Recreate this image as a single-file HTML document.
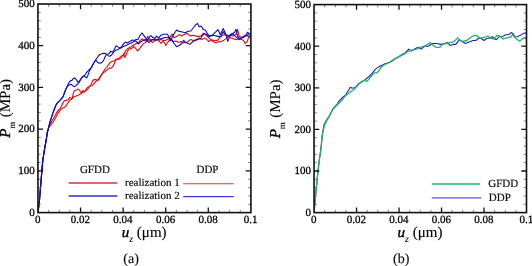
<!DOCTYPE html>
<html><head><meta charset="utf-8"><style>
html,body{margin:0;padding:0;background:#fff;}
svg{display:block;will-change:transform;font-family:"Liberation Serif",serif;text-rendering:geometricPrecision;}
text{stroke:#000;stroke-width:0.28px;}
.leg text{stroke-width:0.18px;}
</style></head><body>
<svg width="532" height="266" viewBox="0 0 532 266">
<defs><clipPath id="ca"><rect x="37.95" y="4.0" width="212.95" height="208.60"/></clipPath>
<clipPath id="cb"><rect x="314.05" y="4.6" width="212.45" height="208.00"/></clipPath></defs>
<g clip-path="url(#ca)"><polyline points="38.0,212.6 39.5,200.0 41.6,174.1 42.8,160.1 44.6,148.9 46.2,139.8 47.4,132.0 48.5,128.2 48.9,127.0 50.0,125.9 51.5,124.0 53.4,121.8 54.9,119.1 56.0,116.9 57.2,114.6 58.3,112.8 59.1,111.7 60.9,109.4 62.7,108.1 64.5,107.2 65.8,106.3 67.1,104.0 68.5,102.1 69.9,100.1 71.4,99.4 73.4,97.2 75.4,96.2 77.4,95.5 79.5,94.5 81.5,93.2 82.5,92.8 84.1,91.8 86.0,90.5 88.0,88.8 89.7,86.2 92.4,85.5 94.5,82.8 96.5,80.8 99.2,79.4 100.3,76.3 103.1,72.8 105.2,71.5 108.1,69.1 109.8,67.9 111.0,68.3 112.7,66.6 113.9,64.6 114.8,62.5 115.6,60.0 117.7,59.6 119.8,58.9 121.9,56.8 124.0,54.0 125.0,57.5 126.0,55.0 127.3,51.6 129.2,49.0 131.8,48.4 133.7,46.4 135.6,48.4 137.5,50.9 139.4,49.0 141.3,46.4 143.3,43.9 145.2,42.6 147.1,41.3 149.0,40.1 150.9,39.4 152.8,40.1 154.8,38.8 156.7,39.4 159.2,41.3 161.1,43.3 163.1,41.3 165.0,43.3 165.7,45.5 167.7,42.3 170.2,39.1 172.8,41.6 176.0,41.0 178.5,42.3 181.1,41.6 183.6,42.9 186.8,42.3 190.8,39.4 193.6,40.8 196.4,40.1 199.1,38.0 201.9,39.4 204.7,38.0 207.5,40.1 208.9,41.5 211.0,40.1 213.1,41.5 215.9,42.9 218.6,41.5 220.3,42.1 223.3,40.6 225.5,39.1 228.5,36.8 231.6,38.3 234.6,39.1 237.6,39.8 240.6,39.1 243.6,40.6 245.1,43.6 247.4,41.4 248.9,36.1 251.0,35.0" fill="none" stroke="#dc0c0c" stroke-width="1.1" stroke-linejoin="round" stroke-linecap="round"/><polyline points="38.0,212.6 39.5,200.0 41.6,174.1 42.8,160.1 44.6,148.9 46.2,139.8 47.4,132.0 48.5,128.2 48.9,127.0 50.4,124.0 51.9,121.0 53.4,118.4 54.9,115.8 56.4,113.1 57.2,111.8 58.7,109.9 60.2,108.4 61.3,106.9 62.0,105.0 62.8,102.8 63.9,101.3 65.1,100.6 66.8,100.4 68.5,99.2 69.6,97.5 70.7,98.1 72.2,98.7 73.4,92.8 74.7,90.8 76.8,89.8 78.1,89.1 79.5,90.1 80.5,91.8 81.5,92.8 82.2,91.5 83.2,90.5 84.5,91.8 85.5,90.8 86.5,88.4 88.0,87.1 89.5,86.5 91.1,84.2 93.1,80.1 95.8,79.4 97.6,80.4 99.6,77.6 102.4,73.5 104.4,69.9 106.5,67.5 108.1,65.4 109.4,63.3 111.0,62.1 112.7,61.2 114.4,60.8 115.6,59.6 117.0,58.9 119.1,58.2 121.2,56.1 123.3,54.7 124.6,52.6 126.0,50.3 127.9,48.4 130.5,47.1 133.0,45.2 135.6,43.9 138.1,43.3 140.1,40.7 142.0,38.8 143.9,40.1 145.8,41.3 147.7,36.2 149.0,38.8 150.9,41.3 152.8,42.6 154.8,40.7 156.7,39.4 158.6,40.1 161.1,39.4 163.7,40.7 166.0,40.1 168.3,39.1 170.9,35.9 172.1,34.0 174.0,37.8 176.6,36.5 179.2,34.6 181.7,35.9 184.3,34.6 186.8,33.3 190.1,35.9 192.9,35.2 195.7,35.9 198.4,36.6 201.2,35.9 203.3,33.1 205.4,34.5 207.5,36.6 209.6,38.7 212.4,40.1 215.2,40.8 217.9,40.1 220.0,37.3 222.0,35.5 224.0,34.6 227.0,36.1 230.0,35.3 233.0,36.1 236.0,34.6 237.6,29.3 239.1,36.1 242.1,37.6 245.1,35.3 248.1,34.6 251.0,33.0" fill="none" stroke="#dc0c0c" stroke-width="1.1" stroke-linejoin="round" stroke-linecap="round"/><polyline points="38.0,212.6 39.5,200.0 41.6,174.1 42.8,160.1 44.6,148.9 46.2,139.8 47.4,132.0 48.5,128.2 49.6,123.3 50.8,119.5 51.9,116.1 53.0,112.7 54.5,108.8 56.0,105.0 57.2,103.1 58.7,101.6 60.2,100.1 61.7,98.3 63.2,96.4 64.2,93.5 65.7,89.5 67.2,86.5 69.0,85.0 70.2,84.4 71.5,84.6 72.7,85.6 73.9,86.6 75.2,86.2 76.4,85.2 77.7,84.0 78.9,82.6 80.2,80.5 81.8,77.8 83.0,76.6 84.3,76.1 85.1,76.7 86.4,77.9 87.2,77.1 88.0,75.0 88.8,72.6 89.7,70.5 91.0,68.0 92.5,65.0 94.0,62.5 95.7,60.0 97.0,61.7 98.6,62.9 100.3,63.3 101.9,62.5 103.6,60.4 104.8,57.5 106.1,55.0 107.0,54.2 109.4,53.4 110.8,51.1 112.6,52.3 114.4,49.3 116.2,45.7 118.0,46.9 119.9,48.1 121.7,46.3 124.1,43.3 125.3,42.0 127.1,43.0 128.9,42.0 130.7,41.0 132.5,40.0 134.3,40.5 136.1,39.6 137.9,39.5 139.7,36.0 141.5,33.5 142.0,33.0 143.9,35.6 145.8,38.1 147.7,40.1 149.6,36.9 150.9,35.6 152.8,37.5 154.8,38.1 156.7,36.2 158.6,38.1 160.5,35.6 163.1,34.3 165.6,34.3 167.0,34.0 168.9,36.5 170.2,41.0 172.8,35.9 174.7,32.7 176.6,30.1 179.2,31.4 182.4,32.0 185.5,32.7 187.5,31.4 190.8,31.0 193.6,27.5 195.7,24.7 197.5,23.4 199.1,26.8 201.2,26.1 203.3,29.6 205.4,30.3 207.5,33.8 209.6,35.9 212.4,35.2 215.2,32.4 217.9,29.6 220.3,34.6 223.3,28.6 226.3,35.3 227.8,41.4 230.0,36.1 232.3,33.8 234.6,32.3 236.0,29.3 237.6,36.1 239.8,39.1 242.8,37.6 245.9,36.1 247.4,32.3 249.6,33.8 251.0,34.0" fill="none" stroke="#0c0cc0" stroke-width="1.1" stroke-linejoin="round" stroke-linecap="round"/><polyline points="38.0,212.6 39.5,200.0 41.6,174.1 42.8,160.1 44.6,148.9 46.2,139.8 47.4,132.0 48.5,128.2 49.6,123.3 50.8,119.5 51.9,116.1 53.0,112.7 54.5,108.8 56.0,105.0 57.2,103.1 58.7,101.6 60.2,100.1 61.7,98.3 63.2,96.4 64.2,93.5 65.7,89.5 67.2,86.5 67.7,85.0 69.4,81.7 70.6,80.8 71.9,80.4 73.1,78.8 74.3,77.9 75.6,78.8 76.8,80.4 78.1,82.5 79.3,81.2 80.6,79.2 81.8,77.5 83.0,76.3 84.3,75.9 85.5,74.2 86.4,72.6 87.6,71.3 88.8,70.1 91.8,67.1 93.8,63.0 95.7,60.0 97.8,56.7 99.9,54.5 102.8,53.4 105.2,53.4 106.9,54.6 108.6,55.9 109.8,56.3 111.5,55.0 113.1,53.0 115.0,50.5 116.8,49.9 119.3,48.7 121.7,47.5 124.1,46.3 126.5,45.3 128.9,44.0 131.3,43.0 133.1,42.0 134.9,40.8 136.8,42.0 138.6,43.9 140.5,42.0 142.6,40.7 145.2,39.4 147.1,40.7 149.0,42.6 150.9,40.7 152.8,39.4 155.4,40.1 157.9,39.4 160.5,38.8 163.1,38.1 165.6,37.5 168.9,37.2 171.5,39.1 174.0,43.5 176.6,46.7 179.2,45.5 181.7,43.5 183.6,40.3 185.5,42.3 188.1,43.5 190.1,44.2 192.2,42.2 195.0,40.1 197.7,39.4 200.5,38.7 202.6,35.2 204.7,33.8 206.8,34.5 208.9,36.6 211.0,35.9 213.8,35.2 215.9,35.9 218.6,36.6 221.0,36.1 223.3,31.6 225.5,34.6 228.5,36.1 231.6,33.8 233.8,34.6 235.3,36.1 237.6,38.3 240.6,38.3 243.6,36.8 246.6,35.3 248.9,36.8 251.0,37.0" fill="none" stroke="#0c0cc0" stroke-width="1.1" stroke-linejoin="round" stroke-linecap="round"/></g>
<g clip-path="url(#cb)"><polyline points="314.1,212.6 315.5,196.0 317.9,172.0 319.3,160.0 320.8,150.0 322.3,135.0 323.9,125.1 326.2,120.6 328.5,117.3 330.7,113.5 332.8,108.8 335.1,106.5 337.3,104.2 338.9,101.2 341.2,99.0 343.4,96.7 345.7,95.0 347.1,92.4 349.2,89.3 350.2,87.2 352.3,88.3 355.4,87.5 358.4,83.8 361.8,82.1 365.1,79.6 368.5,77.0 371.9,73.6 375.3,69.4 378.6,66.9 382.0,65.2 385.4,63.5 388.8,62.7 392.2,61.0 395.5,58.4 398.9,56.8 402.3,54.2 405.0,52.9 408.8,49.1 411.6,51.0 414.4,49.1 418.2,47.3 421.0,49.1 424.7,46.3 428.5,46.3 432.3,43.5 437.0,43.5 440.7,44.4 444.5,43.5 447.3,42.6 450.1,45.4 452.9,44.4 455.8,44.4 459.5,39.7 462.3,41.6 465.3,43.5 469.0,42.0 472.8,40.5 475.8,40.5 479.5,37.5 481.8,39.0 484.0,40.5 487.0,38.3 489.3,38.3 492.3,36.8 496.1,39.8 499.1,36.8 503.0,36.3 506.0,34.8 509.0,34.4 511.3,32.5 513.0,33.6 515.0,37.0 517.0,36.7 520.0,35.5 523.0,33.6 525.0,32.9 526.4,33.6" fill="none" stroke="#2a1ecc" stroke-width="1.1" stroke-linejoin="round" stroke-linecap="round"/><polyline points="314.1,212.6 315.5,196.0 317.9,172.0 319.3,160.0 320.8,150.0 322.3,135.0 324.5,125.1 326.8,120.6 329.0,116.8 331.3,112.3 332.8,109.3 335.1,107.0 337.3,104.8 339.6,102.5 341.8,100.3 344.1,97.3 346.3,95.0 348.1,93.8 351.0,91.5 354.3,89.3 358.4,84.6 361.8,81.3 364.3,80.4 366.8,81.3 369.4,78.7 371.9,75.3 374.4,72.8 377.0,72.8 379.5,70.3 381.2,66.9 383.7,65.2 387.1,63.5 390.5,61.8 393.9,59.3 397.2,57.6 400.6,55.9 404.0,54.2 408.8,51.0 412.5,50.1 416.3,49.1 420.0,47.3 423.8,46.3 427.6,44.4 430.4,42.6 433.2,45.4 436.0,47.3 439.8,47.3 442.6,44.4 446.4,43.5 450.1,42.6 453.9,41.6 457.6,37.9 460.5,40.7 463.0,41.3 466.8,40.5 470.5,37.5 474.3,35.3 477.3,36.0 480.3,38.3 484.0,37.5 487.8,36.0 490.8,38.3 494.6,39.0 496.8,35.3 499.8,36.0 503.0,38.9 506.0,38.2 509.0,37.4 511.0,37.0 512.5,34.4 514.0,36.3 516.0,38.5 519.5,41.2 521.0,40.0 523.0,38.2 525.0,37.8 526.4,38.9" fill="none" stroke="#1eb464" stroke-width="1.3" stroke-linejoin="round" stroke-linecap="round"/></g>
<path d="M48.60 212.60v-2.8M48.60 4.00v2.8M59.25 212.60v-2.8M59.25 4.00v2.8M69.89 212.60v-2.8M69.89 4.00v2.8M91.19 212.60v-2.8M91.19 4.00v2.8M101.83 212.60v-2.8M101.83 4.00v2.8M112.48 212.60v-2.8M112.48 4.00v2.8M133.78 212.60v-2.8M133.78 4.00v2.8M144.43 212.60v-2.8M144.43 4.00v2.8M155.07 212.60v-2.8M155.07 4.00v2.8M176.37 212.60v-2.8M176.37 4.00v2.8M187.01 212.60v-2.8M187.01 4.00v2.8M197.66 212.60v-2.8M197.66 4.00v2.8M218.96 212.60v-2.8M218.96 4.00v2.8M229.61 212.60v-2.8M229.61 4.00v2.8M240.25 212.60v-2.8M240.25 4.00v2.8M37.95 204.26h2.8M250.90 204.26h-2.8M37.95 195.91h2.8M250.90 195.91h-2.8M37.95 187.57h2.8M250.90 187.57h-2.8M37.95 179.22h2.8M250.90 179.22h-2.8M37.95 162.54h2.8M250.90 162.54h-2.8M37.95 154.19h2.8M250.90 154.19h-2.8M37.95 145.85h2.8M250.90 145.85h-2.8M37.95 137.50h2.8M250.90 137.50h-2.8M37.95 120.82h2.8M250.90 120.82h-2.8M37.95 112.47h2.8M250.90 112.47h-2.8M37.95 104.13h2.8M250.90 104.13h-2.8M37.95 95.78h2.8M250.90 95.78h-2.8M37.95 79.10h2.8M250.90 79.10h-2.8M37.95 70.75h2.8M250.90 70.75h-2.8M37.95 62.41h2.8M250.90 62.41h-2.8M37.95 54.06h2.8M250.90 54.06h-2.8M37.95 37.38h2.8M250.90 37.38h-2.8M37.95 29.03h2.8M250.90 29.03h-2.8M37.95 20.69h2.8M250.90 20.69h-2.8M37.95 12.34h2.8M250.90 12.34h-2.8" stroke="#666" stroke-width="0.8" fill="none"/>
<path d="M80.54 212.60v-5.2M80.54 4.00v5.2M123.13 212.60v-5.2M123.13 4.00v5.2M165.72 212.60v-5.2M165.72 4.00v5.2M208.31 212.60v-5.2M208.31 4.00v5.2M37.95 170.88h5.2M250.90 170.88h-5.2M37.95 129.16h5.2M250.90 129.16h-5.2M37.95 87.44h5.2M250.90 87.44h-5.2M37.95 45.72h5.2M250.90 45.72h-5.2" stroke="#111" stroke-width="1.3" fill="none"/>
<rect x="37.95" y="4.0" width="212.95" height="208.60" fill="none" stroke="#111" stroke-width="1.6"/>
<g font-size="11" fill="#000"><text x="37.75" y="223.3" text-anchor="middle">0</text><text x="80.34" y="223.3" text-anchor="middle">0.02</text><text x="122.93" y="223.3" text-anchor="middle">0.04</text><text x="165.52" y="223.3" text-anchor="middle">0.06</text><text x="208.11" y="223.3" text-anchor="middle">0.08</text><text x="250.70" y="223.3" text-anchor="middle">0.1</text><text x="34.85" y="215.90" text-anchor="end">0</text><text x="34.85" y="174.18" text-anchor="end">100</text><text x="34.85" y="132.46" text-anchor="end">200</text><text x="34.85" y="90.74" text-anchor="end">300</text><text x="34.85" y="49.02" text-anchor="end">400</text><text x="34.85" y="7.30" text-anchor="end">500</text></g>
<text x="144.12" y="236.8" text-anchor="middle" font-size="15" fill="#000" style="stroke-width:0.12px"><tspan font-style="italic" style="stroke-width:0.4px">u</tspan><tspan font-style="italic" font-size="10" dy="5.4" style="stroke-width:0.05px">z</tspan><tspan dy="-5.4"> (μm)</tspan></text>
<text transform="translate(10.10,137.80) rotate(-90)" font-size="15" fill="#000" style="stroke-width:0.12px"><tspan font-style="italic" style="stroke-width:0.4px">P</tspan><tspan font-size="9" dy="4.7" style="stroke-width:0.1px">m</tspan><tspan dy="-4.7" dx="0.6"> (MPa)</tspan></text>
<path d="M324.67 212.60v-2.8M324.67 4.60v2.8M335.30 212.60v-2.8M335.30 4.60v2.8M345.92 212.60v-2.8M345.92 4.60v2.8M367.16 212.60v-2.8M367.16 4.60v2.8M377.79 212.60v-2.8M377.79 4.60v2.8M388.41 212.60v-2.8M388.41 4.60v2.8M409.65 212.60v-2.8M409.65 4.60v2.8M420.27 212.60v-2.8M420.27 4.60v2.8M430.90 212.60v-2.8M430.90 4.60v2.8M452.14 212.60v-2.8M452.14 4.60v2.8M462.76 212.60v-2.8M462.76 4.60v2.8M473.39 212.60v-2.8M473.39 4.60v2.8M494.63 212.60v-2.8M494.63 4.60v2.8M505.25 212.60v-2.8M505.25 4.60v2.8M515.88 212.60v-2.8M515.88 4.60v2.8M314.05 204.28h2.8M526.50 204.28h-2.8M314.05 195.96h2.8M526.50 195.96h-2.8M314.05 187.64h2.8M526.50 187.64h-2.8M314.05 179.32h2.8M526.50 179.32h-2.8M314.05 162.68h2.8M526.50 162.68h-2.8M314.05 154.36h2.8M526.50 154.36h-2.8M314.05 146.04h2.8M526.50 146.04h-2.8M314.05 137.72h2.8M526.50 137.72h-2.8M314.05 121.08h2.8M526.50 121.08h-2.8M314.05 112.76h2.8M526.50 112.76h-2.8M314.05 104.44h2.8M526.50 104.44h-2.8M314.05 96.12h2.8M526.50 96.12h-2.8M314.05 79.48h2.8M526.50 79.48h-2.8M314.05 71.16h2.8M526.50 71.16h-2.8M314.05 62.84h2.8M526.50 62.84h-2.8M314.05 54.52h2.8M526.50 54.52h-2.8M314.05 37.88h2.8M526.50 37.88h-2.8M314.05 29.56h2.8M526.50 29.56h-2.8M314.05 21.24h2.8M526.50 21.24h-2.8M314.05 12.92h2.8M526.50 12.92h-2.8" stroke="#666" stroke-width="0.8" fill="none"/>
<path d="M356.54 212.60v-5.2M356.54 4.60v5.2M399.03 212.60v-5.2M399.03 4.60v5.2M441.52 212.60v-5.2M441.52 4.60v5.2M484.01 212.60v-5.2M484.01 4.60v5.2M314.05 171.00h5.2M526.50 171.00h-5.2M314.05 129.40h5.2M526.50 129.40h-5.2M314.05 87.80h5.2M526.50 87.80h-5.2M314.05 46.20h5.2M526.50 46.20h-5.2" stroke="#111" stroke-width="1.3" fill="none"/>
<rect x="314.05" y="4.6" width="212.45" height="208.00" fill="none" stroke="#111" stroke-width="1.6"/>
<g font-size="11" fill="#000"><text x="313.85" y="223.3" text-anchor="middle">0</text><text x="356.34" y="223.3" text-anchor="middle">0.02</text><text x="398.83" y="223.3" text-anchor="middle">0.04</text><text x="441.32" y="223.3" text-anchor="middle">0.06</text><text x="483.81" y="223.3" text-anchor="middle">0.08</text><text x="526.30" y="223.3" text-anchor="middle">0.1</text><text x="310.95" y="215.90" text-anchor="end">0</text><text x="310.95" y="174.30" text-anchor="end">100</text><text x="310.95" y="132.70" text-anchor="end">200</text><text x="310.95" y="91.10" text-anchor="end">300</text><text x="310.95" y="49.50" text-anchor="end">400</text><text x="310.95" y="7.90" text-anchor="end">500</text></g>
<text x="419.97" y="236.8" text-anchor="middle" font-size="15" fill="#000" style="stroke-width:0.12px"><tspan font-style="italic" style="stroke-width:0.4px">u</tspan><tspan font-style="italic" font-size="10" dy="5.4" style="stroke-width:0.05px">z</tspan><tspan dy="-5.4"> (μm)</tspan></text>
<text transform="translate(280.20,138.30) rotate(-90)" font-size="15" fill="#000" style="stroke-width:0.12px"><tspan font-style="italic" style="stroke-width:0.4px">P</tspan><tspan font-size="9" dy="4.7" style="stroke-width:0.1px">m</tspan><tspan dy="-4.7" dx="0.6"> (MPa)</tspan></text>
<g class="leg" font-size="11" fill="#111"><text x="94.9" y="172.9" text-anchor="middle">GFDD</text><text x="207.5" y="173.4" text-anchor="middle">DDP</text><text x="125" y="186.3">realization 1</text><text x="125" y="199.2">realization 2</text><text x="488.2" y="187">GFDD</text><text x="488.8" y="201.1">DDP</text></g>
<g><path d="M68.6 182.95H117.4" stroke="#e03030" stroke-width="1.5"/><path d="M68.6 195.9H117.4" stroke="#3030c4" stroke-width="1.5"/><path d="M183.3 183.7H233.7" stroke="#e03a3a" stroke-width="1.1"/><path d="M183.3 196.6H233.7" stroke="#3a3acc" stroke-width="1.1"/><path d="M431.8 183.9H480.2" stroke="#1eb464" stroke-width="1.5"/><path d="M431.8 197.8H481.2" stroke="#5c56dc" stroke-width="1.3"/></g>
<text x="131.1" y="263" text-anchor="middle" font-size="14" fill="#111" style="stroke-width:0.15px">(a)</text>
<text x="401.2" y="263" text-anchor="middle" font-size="14" fill="#111" style="stroke-width:0.15px">(b)</text>
</svg>
</body></html>
